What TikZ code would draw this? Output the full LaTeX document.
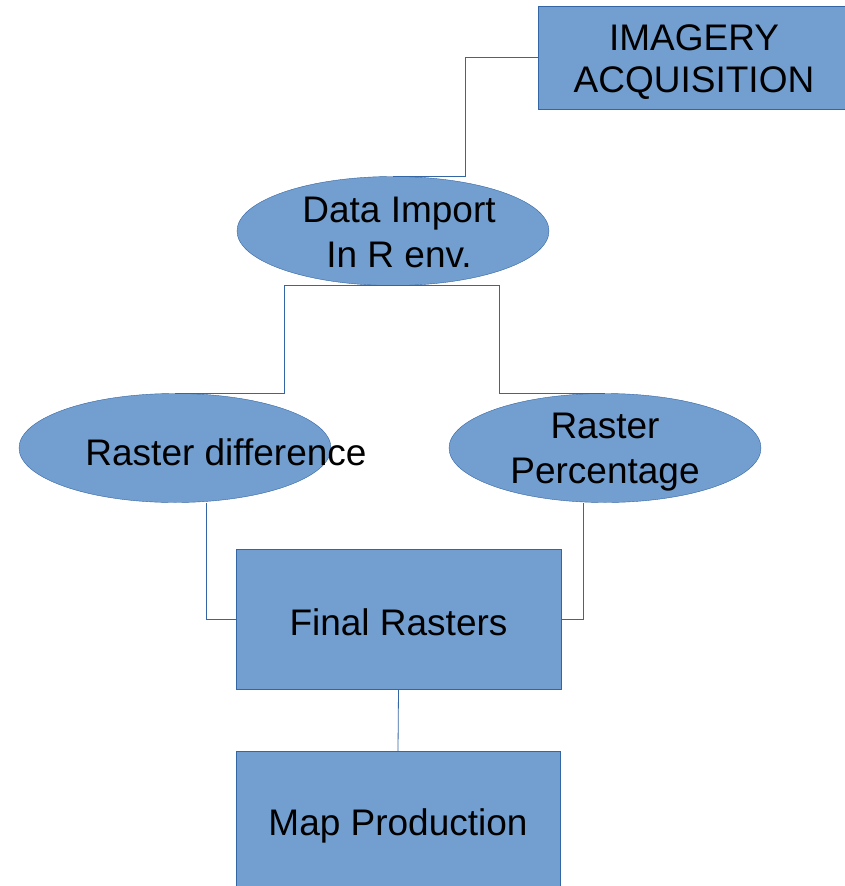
\documentclass[tikz,border=0pt]{standalone}
\usepackage{fontspec}
\setmainfont{Liberation Sans}
\usetikzlibrary{shapes.geometric}
\definecolor{boxfill}{HTML}{729FCF}
\definecolor{boxline}{HTML}{3465A4}

\begin{document}
\begin{tikzpicture}[x=1pt,y=-1pt,
  box/.style={draw=boxline,fill=boxfill,rectangle,inner sep=0pt},
  oval/.style={draw=boxline,fill=boxfill,ellipse,inner sep=0pt,
    minimum width=312pt,minimum height=109pt},
  lbl/.style={align=center,inner sep=0pt,font=\fontsize{37}{45}\selectfont},
  wire/.style={draw=boxline,line width=0.8pt}]
  \useasboundingbox (0,0) rectangle (844,886);
  \node[box,minimum width=312pt,minimum height=103pt,
    label={[lbl,yshift=-5pt]center:{IMAGERY\\[-3pt]ACQUISITION}}] (img) at (694,57.5) {};
  \node[oval,label={[lbl,xshift=6pt,yshift=-1pt]center:{Data Import\\In R env.}}] (dimp) at (393,231) {};
  \node[oval,label={[lbl,xshift=51pt,yshift=-4pt]center:Raster difference}] (rdiff) at (175,448) {};
  \node[oval,label={[lbl,yshift=-4pt]center:{Raster\\Percentage}}] (rperc) at (605,448) {};
  \node[box,minimum width=325pt,minimum height=140pt,
    label={[lbl,yshift=-3pt]center:Final Rasters}] (final) at (398.5,619) {};
  \node[box,minimum width=324pt,minimum height=144pt,
    label={[lbl,yshift=-3pt]center:Map Production}] (map) at (398,823) {};
  \draw[wire] (img.west) -| ([xshift=72pt]dimp.north) -- (dimp.north);
  \draw[wire] (dimp.south) -- ++(-109,0) |- (rdiff.north);
  \draw[wire] (dimp.south) -- ++(106,0) |- (rperc.north);
  \draw[wire] (final.west) -| ([xshift=31pt]rdiff.south);
  \draw[wire] (final.east) -| ([xshift=-22pt]rperc.south);
  \draw[wire] (final.south) -- (map.north);
\end{tikzpicture}
\end{document}
